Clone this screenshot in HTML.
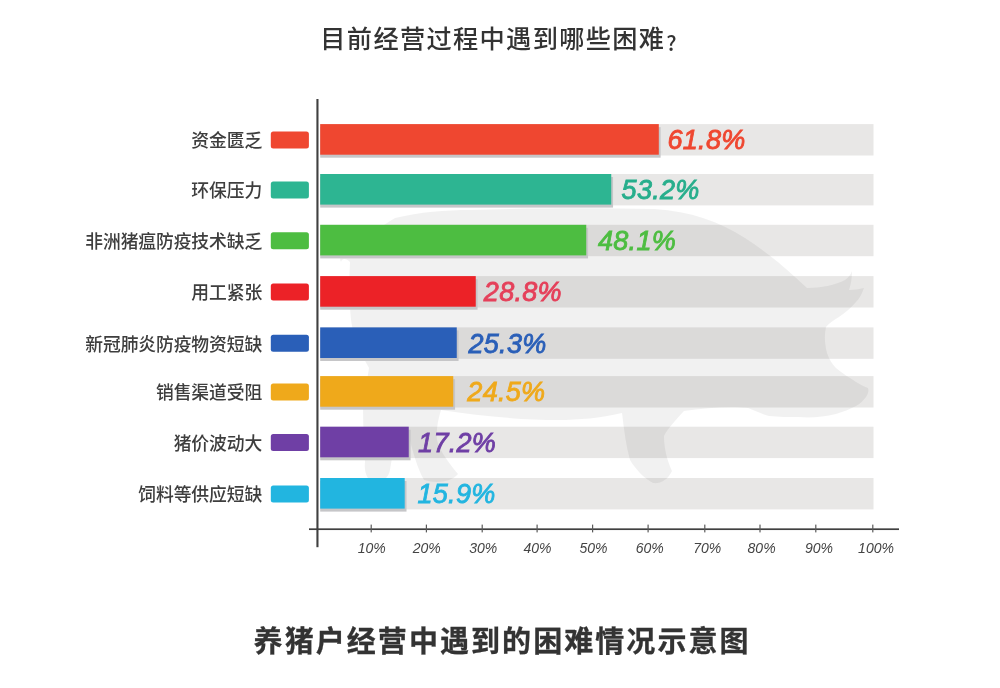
<!DOCTYPE html>
<html lang="zh-CN">
<head>
<meta charset="utf-8">
<title>养猪户经营中遇到的困难情况示意图</title>
<style>
html,body{margin:0;padding:0;background:#fff;}
body{width:1000px;height:688px;position:relative;overflow:hidden;font-family:"Liberation Sans","Noto Sans CJK SC",sans-serif;}
#c{position:absolute;left:0;top:0;width:1000px;height:688px;overflow:hidden;background:#fff;}
#c div{position:absolute;}
.g{position:absolute;left:0;top:0;}
.title{left:-1.5px;width:1000px;top:19px;height:40px;line-height:40px;text-align:center;font-size:25.2px;letter-spacing:1.35px;color:#333;font-weight:500;white-space:nowrap;}
.title span{font-family:"Noto Sans CJK SC",sans-serif;font-size:21px;letter-spacing:0;font-weight:500;margin-left:1px;position:relative;top:2.5px;}
.foot{left:2.1px;width:1000px;top:621px;height:42px;line-height:42px;text-align:center;font-size:29px;letter-spacing:2.06px;color:#333;font-weight:700;-webkit-text-stroke:0.3px #333;white-space:nowrap;}
.val{width:120px;text-align:center;height:30.8px;line-height:30.8px;font-size:27px;font-style:italic;letter-spacing:0.3px;-webkit-text-stroke-width:0.85px;white-space:nowrap;}
.lab{left:0;width:262.1px;text-align:right;font-weight:500;height:30.8px;line-height:30.8px;font-size:17.8px;letter-spacing:-0.1px;color:#3e3e3e;white-space:nowrap;transform:scaleY(1.05);transform-origin:50% 50%;}
.tl{top:538.6px;width:60px;height:18px;line-height:18px;text-align:center;font-size:14px;font-style:italic;color:#444;white-space:nowrap;}
</style>
</head>
<body>
<div id="c">
<svg class="g" width="1000" height="688" viewBox="0 0 1000 688">
<rect x="320.2" y="124.10" width="553.30" height="31.4" fill="#e8e7e6"/>
<rect x="320.2" y="174.00" width="553.30" height="31.4" fill="#e8e7e6"/>
<rect x="320.2" y="224.80" width="553.30" height="31.4" fill="#e8e7e6"/>
<rect x="320.2" y="276.10" width="553.30" height="31.4" fill="#e8e7e6"/>
<rect x="320.2" y="327.40" width="553.30" height="31.4" fill="#e8e7e6"/>
<rect x="320.2" y="376.10" width="553.30" height="31.4" fill="#e8e7e6"/>
<rect x="320.2" y="426.70" width="553.30" height="31.4" fill="#e8e7e6"/>
<rect x="320.2" y="478.00" width="553.30" height="31.4" fill="#e8e7e6"/>
<path fill="#000" fill-opacity="0.055" d="M395,218 C420,212 445,210 470,210 C530,208 600,208 655,209 C690,211 720,222 745,238 C770,254 790,272 807,288 C820,288 836,285 845,280 C849,277 851,274 852,271 C852,278 851,284 849,290 C854,290 859,289 864,288 C862,294 859,299 856,302 C851,308 845,313 839,317 C834,320 829,323 826,327 C824,336 825,345 827,353 C829,359 832,364 836,368 C842,373 850,378 856,382 C861,385 865,387 868,388 C869,391 868,394 866,397 C863,401 860,404 856,406 C850,409 843,412 836,414 C824,417 811,418 798,417 C788,417 778,417 769,416 C762,414 755,411 748,408 C730,406 706,408 684,411 C676,420 668,428 664,436 C664,450 668,462 672,471 C668,480 660,484 653,483 C644,478 636,470 630,460 C626,446 624,430 622,413 C600,418 580,420 558,420 C520,420 480,416 441,410 C438,420 436,430 437,440 C440,452 450,464 458,474 C452,482 436,484 424,480 C418,470 412,450 408,432 C404,428 400,428 398,432 C394,444 392,458 390,470 C388,480 380,484 372,482 C366,478 364,470 365,462 C364,444 363,426 363,408 C365,394 367,380 369,368 C360,352 353,336 351,320 C349,300 349,280 350,262 C346,258 342,258 341,262 C338,256 342,250 348,251 C352,251 355,254 356,258 C366,240 380,226 395,218 Z"/>
<rect x="320.20" y="127.10" width="340.40" height="30.6" fill="#c6c6c8"/>
<rect x="320.2" y="124.10" width="338.60" height="30.6" fill="#ef4730"/>
<rect x="270.8" y="131.50" width="38.1" height="17" rx="2.5" ry="2.5" fill="#ef4730"/>
<rect x="320.20" y="177.00" width="292.85" height="30.6" fill="#c6c6c8"/>
<rect x="320.2" y="174.00" width="291.05" height="30.6" fill="#2db592"/>
<rect x="270.8" y="181.40" width="38.1" height="17" rx="2.5" ry="2.5" fill="#2db592"/>
<rect x="320.20" y="227.80" width="267.85" height="30.6" fill="#c6c6c8"/>
<rect x="320.2" y="224.80" width="266.05" height="30.6" fill="#4dbd41"/>
<rect x="270.8" y="232.20" width="38.1" height="17" rx="2.5" ry="2.5" fill="#4dbd41"/>
<rect x="320.20" y="279.10" width="157.35" height="30.6" fill="#c6c6c8"/>
<rect x="320.2" y="276.10" width="155.55" height="30.6" fill="#ec2227"/>
<rect x="270.8" y="283.50" width="38.1" height="17" rx="2.5" ry="2.5" fill="#ec2227"/>
<rect x="320.20" y="330.40" width="138.35" height="30.6" fill="#c6c6c8"/>
<rect x="320.2" y="327.40" width="136.55" height="30.6" fill="#2a5fb8"/>
<rect x="270.8" y="334.80" width="38.1" height="17" rx="2.5" ry="2.5" fill="#2a5fb8"/>
<rect x="320.20" y="379.10" width="134.85" height="30.6" fill="#c6c6c8"/>
<rect x="320.2" y="376.10" width="133.05" height="30.6" fill="#efa91b"/>
<rect x="270.8" y="383.50" width="38.1" height="17" rx="2.5" ry="2.5" fill="#efa91b"/>
<rect x="320.20" y="429.70" width="90.35" height="30.6" fill="#c6c6c8"/>
<rect x="320.2" y="426.70" width="88.55" height="30.6" fill="#6f3fa5"/>
<rect x="270.8" y="434.10" width="38.1" height="17" rx="2.5" ry="2.5" fill="#6f3fa5"/>
<rect x="320.20" y="481.00" width="86.30" height="30.6" fill="#c6c6c8"/>
<rect x="320.2" y="478.00" width="84.50" height="30.6" fill="#22b5e0"/>
<rect x="270.8" y="485.40" width="38.1" height="17" rx="2.5" ry="2.5" fill="#22b5e0"/>
<rect x="316.4" y="99" width="2.1" height="448.2" fill="#404040"/>
<rect x="309" y="528.35" width="590" height="1.7" fill="#404040"/>
<rect x="370.60" y="524.6" width="1.2" height="7.8" fill="#5a5a5a"/>
<rect x="425.80" y="524.6" width="1.2" height="7.8" fill="#5a5a5a"/>
<rect x="481.60" y="524.6" width="1.2" height="7.8" fill="#5a5a5a"/>
<rect x="536.50" y="524.6" width="1.2" height="7.8" fill="#5a5a5a"/>
<rect x="592.00" y="524.6" width="1.2" height="7.8" fill="#5a5a5a"/>
<rect x="647.50" y="524.6" width="1.2" height="7.8" fill="#5a5a5a"/>
<rect x="704.20" y="524.6" width="1.2" height="7.8" fill="#5a5a5a"/>
<rect x="759.40" y="524.6" width="1.2" height="7.8" fill="#5a5a5a"/>
<rect x="815.20" y="524.6" width="1.2" height="7.8" fill="#5a5a5a"/>
<rect x="872.20" y="524.6" width="1.2" height="7.8" fill="#5a5a5a"/>
</svg>
<div class="title">目前经营过程中遇到哪些困难<span>?</span></div>
<div class="val" style="top:125.30px;left:646.50px;color:#ef4730;-webkit-text-stroke-color:#ef4730">61.8%</div>
<div class="lab" style="top:126.30px">资金匮乏</div>
<div class="val" style="top:175.20px;left:600.60px;color:#27ae8c;-webkit-text-stroke-color:#27ae8c">53.2%</div>
<div class="lab" style="top:176.20px">环保压力</div>
<div class="val" style="top:226.00px;left:577.00px;color:#4dbd41;-webkit-text-stroke-color:#4dbd41">48.1%</div>
<div class="lab" style="top:227.00px">非洲猪瘟防疫技术缺乏</div>
<div class="val" style="top:277.30px;left:462.90px;color:#e5405a;-webkit-text-stroke-color:#e5405a">28.8%</div>
<div class="lab" style="top:278.30px">用工紧张</div>
<div class="val" style="top:328.60px;left:447.50px;color:#2a5fb8;-webkit-text-stroke-color:#2a5fb8">25.3%</div>
<div class="lab" style="top:329.60px">新冠肺炎防疫物资短缺</div>
<div class="val" style="top:377.30px;left:446.40px;color:#efa91b;-webkit-text-stroke-color:#efa91b">24.5%</div>
<div class="lab" style="top:378.30px">销售渠道受阻</div>
<div class="val" style="top:427.90px;left:397.10px;color:#6f3fa5;-webkit-text-stroke-color:#6f3fa5">17.2%</div>
<div class="lab" style="top:428.90px">猪价波动大</div>
<div class="val" style="top:479.20px;left:396.50px;color:#22b5e0;-webkit-text-stroke-color:#22b5e0">15.9%</div>
<div class="lab" style="top:480.20px">饲料等供应短缺</div>
<div class="tl" style="left:341.80px">10%</div>
<div class="tl" style="left:396.80px">20%</div>
<div class="tl" style="left:453.30px">30%</div>
<div class="tl" style="left:507.50px">40%</div>
<div class="tl" style="left:563.50px">50%</div>
<div class="tl" style="left:619.70px">60%</div>
<div class="tl" style="left:677.30px">70%</div>
<div class="tl" style="left:731.60px">80%</div>
<div class="tl" style="left:789.00px">90%</div>
<div class="tl" style="left:846.00px">100%</div>
<div class="foot">养猪户经营中遇到的困难情况示意图</div>
</div>
</body>
</html>
